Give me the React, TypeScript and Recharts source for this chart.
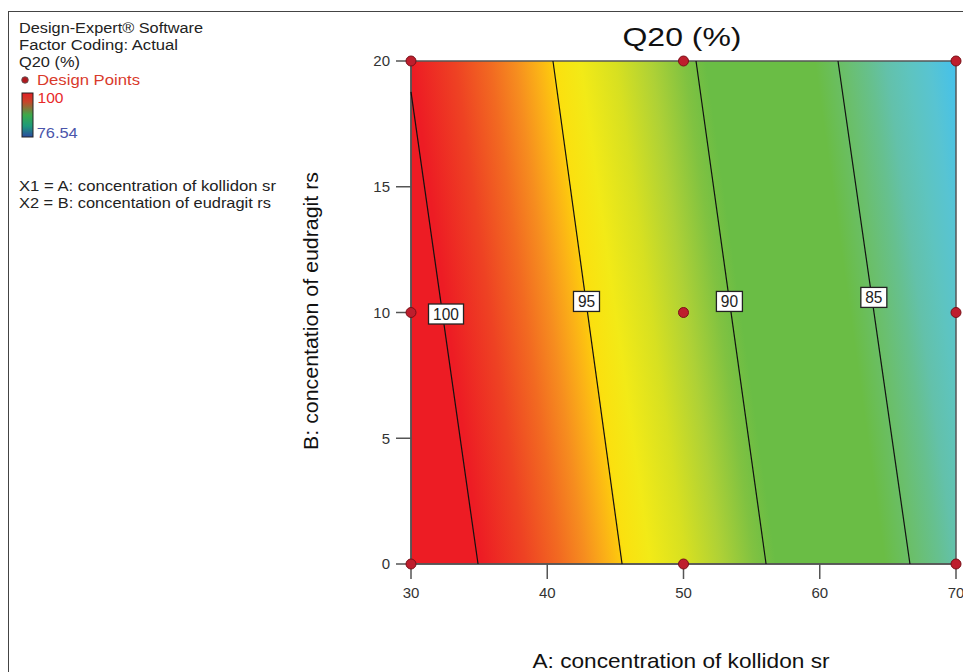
import React from 'react';
import { ComposedChart, XAxis, YAxis, Scatter, ReferenceArea } from 'recharts';

// Axis ticks
const xTicks = [30, 40, 50, 60, 70];
const yTicks = [0, 5, 10, 15, 20];

// Design points (A, B)
const designA = [30, 30, 30, 50, 50, 50, 70, 70, 70];
const designB = [0, 10, 20, 0, 10, 20, 0, 10, 20];

// Contour lines (Q20 levels), start at B=0 and end at top / left edge
const contourLevels = [100, 95, 90, 85];
const contourStartA = [34.92, 45.49, 56.06, 66.62];
const contourStartB = [0, 0, 0, 0];
const contourEndA = [30, 40.42, 50.92, 61.34];
const contourEndB = [18.77, 20, 20, 20];

// Contour label positions
const labelA = [32.57, 42.88, 53.37, 63.97];
const labelB = [9.94, 10.44, 10.44, 10.6];

const FONT = '"Liberation Sans", Arial, sans-serif';

const designData = designA.map((a, i) => ({ a, b: designB[i] }));
const contourData = contourLevels.map((lvl, i) => [
  { a: contourStartA[i], b: contourStartB[i], level: lvl },
  { a: contourEndA[i], b: contourEndB[i], level: lvl },
]);
const labelData = contourLevels.map((lvl, i) => ({ a: labelA[i], b: labelB[i], level: lvl }));

// fill gradient stops (s = bottom-equivalent fraction of A range, max 1.129)
const fillStops: [number, string][] = [
  [0, '#ED1C24'],
  [0.13, '#ED1C24'],
  [0.21, '#EE4223'],
  [0.274, '#F26A21'],
  [0.32, '#F68D1F'],
  [0.36, '#FBB117'],
  [0.385, '#FDC80E'],
  [0.392, '#FBE00F'],
  [0.44, '#F2EA17'],
  [0.505, '#D7E021'],
  [0.57, '#AED136'],
  [0.63, '#80C241'],
  [0.67, '#6ABD45'],
  [0.87, '#6ABD45'],
  [0.93, '#6ABF70'],
  [0.97, '#66C08F'],
  [1.0, '#63C1AA'],
  [1.04, '#5EC4BF'],
  [1.08, '#58C4D2'],
  [1.129, '#44C1EC'],
];

const Empty = () => <g />;

const DesignDot = (props: any) => {
  const { cx, cy } = props;
  if (cx == null || cy == null) return <g />;
  return <circle cx={cx} cy={cy} r={5} fill="#BE1E2D" stroke="#7A1018" strokeWidth={1} />;
};

const ContourLabel = (props: any) => {
  const { cx, cy, payload } = props;
  if (cx == null || cy == null) return <g />;
  const txt = String(payload.level);
  const w = txt.length * 9 + 8;
  const h = 20;
  return (
    <g>
      <rect x={cx - w / 2} y={cy - h / 2} width={w} height={h} fill="#fff" stroke="#222" strokeWidth={1.3} />
      <text
        x={cx}
        y={cy + 6}
        textAnchor="middle"
        fontSize={16}
        fontFamily={FONT}
        fill="#222"
        textLength={txt.length * 8.6}
        lengthAdjust="spacingAndGlyphs"
      >
        {txt}
      </text>
    </g>
  );
};

export default function App() {
  return (
    <div
      style={{
        position: 'absolute',
        left: 0,
        top: 0,
        width: 963,
        height: 672,
        overflow: 'hidden',
        background: '#fff',
        fontFamily: FONT,
      }}
    >
      <svg width={0} height={0} style={{ position: 'absolute' }}>
        <defs>
          <linearGradient id="q20fill" x1="0" y1="1" x2="1.1105" y2="0.8567">
            {fillStops.map(([s, c], i) => (
              <stop key={i} offset={s / 1.129} stopColor={c} />
            ))}
          </linearGradient>
          <linearGradient id="legendBar" x1="0" y1="0" x2="0" y2="1">
            <stop offset="0" stopColor="#E21F26" />
            <stop offset="0.2" stopColor="#C8452A" />
            <stop offset="0.5" stopColor="#3BAA4A" />
            <stop offset="0.75" stopColor="#1E9A7A" />
            <stop offset="1" stopColor="#2B4AA0" />
          </linearGradient>
        </defs>
      </svg>

      <div
        style={{
          position: 'absolute',
          left: 8,
          top: 11,
          width: 1000,
          height: 700,
          borderLeft: '1px solid #444',
          borderTop: '1px solid #444',
        }}
      />

      <div style={{ position: 'absolute', left: 0, top: 0 }}>
        <ComposedChart
          width={1020}
          height={672}
          margin={{ top: 61, right: 64, bottom: 68, left: 351 }}
        >
          <ReferenceArea
            x1={30}
            x2={70}
            y1={0}
            y2={20}
            fill="url(#q20fill)"
            fillOpacity={1}
            stroke="#555"
            strokeWidth={1.5}
            ifOverflow="visible"
          />
          <XAxis
            type="number"
            dataKey="a"
            domain={[30, 70]}
            ticks={xTicks}
            height={40}
            tickSize={15}
            tickMargin={8}
            axisLine={{ stroke: '#555', strokeWidth: 1.5 }}
            tickLine={{ stroke: '#555', strokeWidth: 1.5 }}
            tick={{ fill: '#333', fontSize: 15, fontFamily: FONT }}
          />
          <YAxis
            type="number"
            dataKey="b"
            domain={[0, 20]}
            ticks={yTicks}
            width={60}
            tickSize={15}
            tickMargin={6}
            axisLine={{ stroke: '#555', strokeWidth: 1.5 }}
            tickLine={{ stroke: '#555', strokeWidth: 1.5 }}
            tick={{ fill: '#333', fontSize: 15, fontFamily: FONT }}
          />
          {contourData.map((d, i) => (
            <Scatter
              key={'c' + i}
              data={d}
              fill="#111"
              line={{ stroke: '#111', strokeWidth: 1.2 }}
              shape={Empty}
              isAnimationActive={false}
            />
          ))}
          <Scatter data={labelData} shape={ContourLabel} isAnimationActive={false} />
          <Scatter data={designData} shape={DesignDot} isAnimationActive={false} />
        </ComposedChart>
      </div>

      <svg
        width={963}
        height={672}
        style={{ position: 'absolute', left: 0, top: 0, pointerEvents: 'none' }}
        fontFamily={FONT}
      >
        <text x={19} y={32.5} fontSize={14} fill="#222" textLength={184} lengthAdjust="spacingAndGlyphs">
          Design-Expert® Software
        </text>
        <text x={19} y={49.5} fontSize={14} fill="#222" textLength={159} lengthAdjust="spacingAndGlyphs">
          Factor Coding: Actual
        </text>
        <text x={19} y={67} fontSize={14} fill="#222" textLength={61} lengthAdjust="spacingAndGlyphs">
          Q20 (%)
        </text>
        <circle cx={25} cy={80} r={3.3} fill="#B0181E" stroke="#555" strokeWidth={0.8} />
        <text x={37} y={85} fontSize={14} fill="#D93A2B" textLength={103} lengthAdjust="spacingAndGlyphs">
          Design Points
        </text>
        <rect x={22} y={93} width={11} height={44} fill="url(#legendBar)" stroke="#222" strokeWidth={1} />
        <text x={37.5} y={102.5} fontSize={14} fill="#E8292A" textLength={26} lengthAdjust="spacingAndGlyphs">
          100
        </text>
        <text x={36.7} y={138.3} fontSize={14} fill="#4B55AB" textLength={41} lengthAdjust="spacingAndGlyphs">
          76.54
        </text>
        <text x={19} y={190.7} fontSize={14} fill="#222" textLength={257} lengthAdjust="spacingAndGlyphs">
          X1 = A: concentration of kollidon sr
        </text>
        <text x={19} y={208.3} fontSize={14} fill="#222" textLength={252} lengthAdjust="spacingAndGlyphs">
          X2 = B: concentation of eudragit rs
        </text>

        <text x={682} y={46} fontSize={25} fill="#111" textAnchor="middle" textLength={119} lengthAdjust="spacingAndGlyphs">
          Q20 (%)
        </text>
        <text x={681} y={668} fontSize={21} fill="#111" textAnchor="middle" textLength={297} lengthAdjust="spacingAndGlyphs">
          A: concentration of kollidon sr
        </text>
        <text
          x={318}
          y={311}
          fontSize={20}
          fill="#111"
          textAnchor="middle"
          textLength={278}
          lengthAdjust="spacingAndGlyphs"
          transform="rotate(-90, 318, 311)"
        >
          B: concentation of eudragit rs
        </text>
      </svg>
    </div>
  );
}
